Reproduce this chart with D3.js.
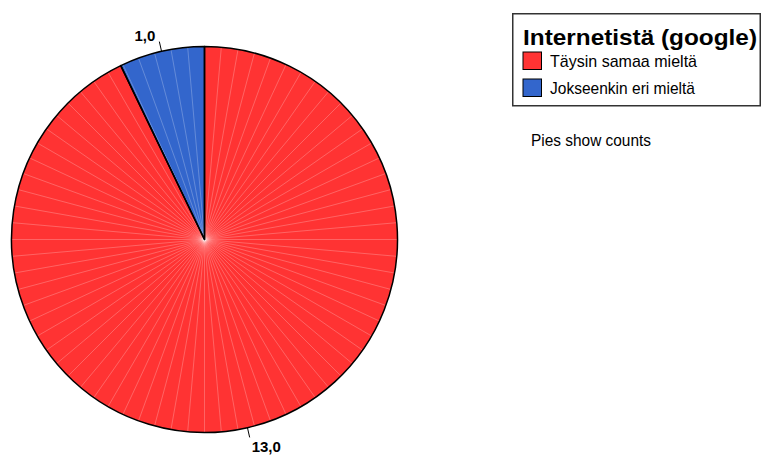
<!DOCTYPE html>
<html>
<head>
<meta charset="utf-8">
<script src="https://cdn.jsdelivr.net/npm/d3@7"></script>
<style>
  html, body { margin: 0; padding: 0; background: #fff; }
  svg { display: block; font-family: "Liberation Sans", Arial, sans-serif; }
</style>
</head>
<body>
<svg id="chart" width="761" height="455"></svg>
<script>
const legendTitle = "Internetistä (google)";
const categories = ["Täysin samaa mieltä", "Jokseenkin eri mieltä"];
const counts = [13, 1];
const countLabels = ["13,0", "1,0"];
const colors = ["#ff3333", "#3366cc"];
const note = "Pies show counts";

const svg = d3.select("#chart");
const cx = 204.5, cy = 239.5, r = 193;

const color = d3.scaleOrdinal().domain(categories).range(colors);
const pie = d3.pie().sort(null).value(d => d.value);
const data = categories.map((c, i) => ({ cat: c, value: counts[i], label: countLabels[i] }));
const arcs = pie(data);
const arc = d3.arc().innerRadius(0).outerRadius(r);

const g = svg.append("g").attr("transform", `translate(${cx},${cy})`);

g.selectAll("path.slice").data(arcs).enter().append("path")
  .attr("class", "slice")
  .attr("d", arc)
  .attr("fill", d => color(d.data.cat));

// faint radial segment seams
const seams = d3.range(0, 360, 5);
g.selectAll("line.seam").data(seams).enter().append("line")
  .attr("x1", 0).attr("y1", 0)
  .attr("x2", a => r * Math.sin(a * Math.PI / 180))
  .attr("y2", a => -r * Math.cos(a * Math.PI / 180))
  .attr("stroke", "#fff").attr("stroke-opacity", 0.3).attr("stroke-width", 0.8);

g.selectAll("path.outline").data(arcs).enter().append("path")
  .attr("class", "outline")
  .attr("d", arc)
  .attr("fill", "none")
  .attr("stroke", "#000").attr("stroke-width", 1.5).attr("stroke-linejoin", "round");

// leader lines and labels
arcs.forEach(d => {
  const mid = (d.startAngle + d.endAngle) / 2;
  const sx = r * Math.sin(mid), sy = -r * Math.cos(mid);
  const ex = (r + 10) * Math.sin(mid), ey = -(r + 10) * Math.cos(mid);
  g.append("line").attr("x1", sx).attr("y1", sy).attr("x2", ex).attr("y2", ey)
    .attr("stroke", "#000").attr("stroke-width", 1);
  const left = ex < 0;
  const top = ey < 0;
  g.append("text")
    .attr("x", left ? ex - 4 : ex + 2)
    .attr("y", top ? ey - 1 : ey + 15)
    .attr("text-anchor", left ? "end" : "start")
    .attr("font-size", 15).attr("font-weight", "bold").attr("fill", "#000")
    .text(d.data.label);
});

// legend
const lg = svg.append("g");
lg.append("rect").attr("x", 512.75).attr("y", 13.75).attr("width", 247.5).attr("height", 92)
  .attr("fill", "#fff").attr("stroke", "#333").attr("stroke-width", 1.5);
lg.append("text").attr("x", 523).attr("y", 44.5)
  .attr("font-size", 22).attr("font-weight", "bold")
  .attr("textLength", 234).attr("lengthAdjust", "spacingAndGlyphs")
  .text(legendTitle);
const itemY = [52, 79];
const itemW = [147, 145];
categories.forEach((c, i) => {
  lg.append("rect").attr("x", 523).attr("y", itemY[i]).attr("width", 18.5).attr("height", 17.5)
    .attr("fill", color(c)).attr("stroke", "#000").attr("stroke-width", 1);
  lg.append("text").attr("x", 550).attr("y", itemY[i] + 15.3)
    .attr("font-size", 17)
    .attr("textLength", itemW[i]).attr("lengthAdjust", "spacingAndGlyphs")
    .text(c);
});

svg.append("text").attr("x", 531).attr("y", 145.7)
  .attr("font-size", 16)
  .attr("textLength", 120).attr("lengthAdjust", "spacingAndGlyphs")
  .text(note);
</script>
</body>
</html>
